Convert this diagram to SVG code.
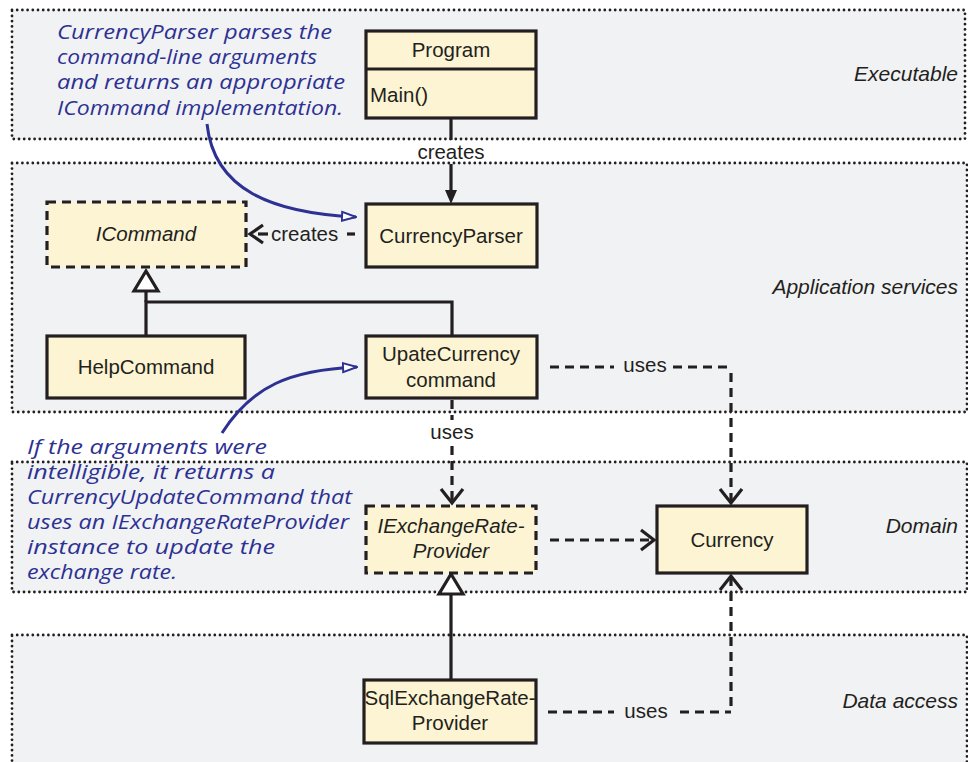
<svg xmlns="http://www.w3.org/2000/svg" width="968" height="762" viewBox="0 0 968 762">
  <defs>
    <style>
      .layer { fill: #f1f2f4; stroke: #231f20; stroke-width: 2.8; stroke-dasharray: 0 5.2; stroke-linecap: round; }
      .layer-label { font-family: "Liberation Sans", Arial, sans-serif; font-style: italic; font-size: 21px; fill: #231f20; text-anchor: end; }
      .box { fill: #fcf4d2; stroke: #231f20; stroke-width: 3.2; }
      .ibox { fill: #fcf4d2; stroke: #231f20; stroke-width: 3.2; stroke-dasharray: 9 6; }
      .t { font-family: "Liberation Sans", Arial, sans-serif; font-size: 20.5px; fill: #231f20; text-anchor: middle; }
      .t.left { text-anchor: start; }
      .it { font-style: italic; }
      .solid { fill: none; stroke: #231f20; stroke-width: 3.2; }
      .dash { fill: none; stroke: #231f20; stroke-width: 3.2; stroke-dasharray: 9 6; }
      .head { fill: none; stroke: #231f20; stroke-width: 3.2; }
      .tri { fill: #ffffff; stroke: #231f20; stroke-width: 3.2; }
      .lbl { font-family: "Liberation Sans", Arial, sans-serif; font-size: 20.5px; fill: #231f20; }
      .note { font-family: "Open Sans", "DejaVu Sans", sans-serif; font-style: italic; font-size: 20px; fill: #2d3192; }
      .callout { fill: none; stroke: #2d3192; stroke-width: 3; }
    </style>
    <marker id="hollowBlue" viewBox="0 0 16 12" refX="15" refY="6" markerWidth="16" markerHeight="12" markerUnits="userSpaceOnUse" orient="auto">
      <path d="M1,1.5 L15,6 L1,10.5 Z" fill="#ffffff" stroke="#2d3192" stroke-width="2"/>
    </marker>
  </defs>

  <!-- layers -->
  <g id="layer-executable">
    <rect class="layer" x="12" y="10" width="953" height="129"/>
    <text class="layer-label" x="958" y="81">Executable</text>
  </g>
  <g id="layer-application">
    <rect class="layer" x="12" y="163" width="955" height="249"/>
    <text class="layer-label" x="958" y="294">Application services</text>
  </g>
  <g id="layer-domain">
    <rect class="layer" x="12" y="462" width="955" height="130"/>
    <text class="layer-label" x="958" y="533">Domain</text>
  </g>
  <g id="layer-data">
    <rect class="layer" x="12" y="635" width="955" height="140"/>
    <text class="layer-label" x="958" y="708">Data access</text>
  </g>

  <!-- connectors -->
  <g id="connectors">
    <!-- Program creates CurrencyParser -->
    <line class="solid" x1="451" y1="118" x2="451" y2="140"/>
    <line class="solid" x1="451" y1="164" x2="451" y2="192"/>
    <path d="M445,190 L457,190 L451,204 Z" fill="#231f20"/>
    <text class="lbl" x="451" y="159" text-anchor="middle">creates</text>

    <!-- CurrencyParser creates ICommand -->
    <line class="solid" x1="347" y1="234" x2="355" y2="234"/>
    <line class="solid" x1="258" y1="234" x2="268" y2="234"/>
    <polyline class="head" points="263,225 250,234 263,243"/>
    <text class="lbl" x="271" y="241">creates</text>

    <!-- generalization to ICommand -->
    <polyline class="solid" points="146,336 146,302 452,302 452,336"/>
    <line class="solid" x1="146" y1="302" x2="146" y2="291"/>
    <path class="tri" d="M146,271 L134,291 L158,291 Z"/>

    <!-- UpateCurrency command uses Currency -->
    <line class="dash" x1="550" y1="367" x2="614" y2="367"/>
    <text class="lbl" x="645" y="372" text-anchor="middle">uses</text>
    <line class="dash" x1="673" y1="367" x2="731" y2="367"/>
    <line class="dash" x1="731" y1="373" x2="731" y2="502"/>
    <polyline class="head" points="720,489 731,503 742,489"/>

    <!-- UpateCurrency command uses IExchangeRateProvider -->
    <line class="dash" x1="452" y1="400" x2="452" y2="420"/>
    <text class="lbl" x="452" y="439" text-anchor="middle">uses</text>
    <line class="dash" x1="452" y1="446" x2="452" y2="502"/>
    <polyline class="head" points="441,489 452,503 463,489"/>

    <!-- IExchangeRateProvider uses Currency -->
    <line class="dash" x1="550" y1="540" x2="652" y2="540"/>
    <polyline class="head" points="641,530 654,540 641,550"/>

    <!-- generalization to IExchangeRateProvider -->
    <line class="solid" x1="451" y1="594" x2="451" y2="680"/>
    <path class="tri" d="M451,574 L439,594 L463,594 Z"/>

    <!-- SqlExchangeRateProvider uses Currency -->
    <line class="dash" x1="548" y1="712" x2="614" y2="712"/>
    <text class="lbl" x="646" y="718" text-anchor="middle">uses</text>
    <line class="dash" x1="680" y1="712" x2="731" y2="712"/>
    <line class="dash" x1="731" y1="706" x2="731" y2="578"/>
    <polyline class="head" points="720,590 731,576 742,590"/>

    <!-- callouts -->
    <path class="callout" d="M207,124 C214,190 272,213 356,217" marker-end="url(#hollowBlue)"/>
    <path class="callout" d="M222,433 C252,386 290,370 357,367" marker-end="url(#hollowBlue)"/>
  </g>

  <!-- nodes -->
  <g id="program">
    <rect class="box" x="366" y="31" width="170" height="87"/>
    <line class="solid" x1="366" y1="69" x2="536" y2="69"/>
    <text class="t" x="451" y="57">Program</text>
    <text class="t left" x="370" y="102">Main()</text>
  </g>
  <g id="currency-parser">
    <rect class="box" x="366" y="204" width="171" height="63"/>
    <text class="t" x="451" y="243">CurrencyParser</text>
  </g>
  <g id="icommand">
    <rect class="ibox" x="47" y="202" width="199" height="65"/>
    <text class="t it" x="146" y="241">ICommand</text>
  </g>
  <g id="help-command">
    <rect class="box" x="47" y="336" width="198" height="62"/>
    <text class="t" x="146" y="374">HelpCommand</text>
  </g>
  <g id="update-currency-command">
    <rect class="box" x="366" y="336" width="171" height="62"/>
    <text class="t" x="451" y="361">UpateCurrency</text>
    <text class="t" x="451" y="387">command</text>
  </g>
  <g id="iexchange-rate-provider">
    <rect class="ibox" x="366" y="506" width="170" height="67"/>
    <text class="t it" x="451" y="533">IExchangeRate-</text>
    <text class="t it" x="451" y="558">Provider</text>
  </g>
  <g id="currency">
    <rect class="box" x="657" y="506" width="150" height="67"/>
    <text class="t" x="732" y="547">Currency</text>
  </g>
  <g id="sql-exchange-rate-provider">
    <rect class="box" x="364" y="680" width="172" height="63"/>
    <text class="t" x="450" y="705">SqlExchangeRate-</text>
    <text class="t" x="450" y="730">Provider</text>
  </g>

  <!-- notes -->
  <g id="note-parser">
    <text class="note" x="57" y="39" textLength="275" lengthAdjust="spacingAndGlyphs">CurrencyParser parses the</text>
    <text class="note" x="57" y="64" textLength="260" lengthAdjust="spacingAndGlyphs">command-line arguments</text>
    <text class="note" x="57" y="89" textLength="288" lengthAdjust="spacingAndGlyphs">and returns an appropriate</text>
    <text class="note" x="57" y="115" textLength="286" lengthAdjust="spacingAndGlyphs">ICommand implementation.</text>
  </g>
  <g id="note-command">
    <text class="note" x="27" y="454" textLength="240" lengthAdjust="spacingAndGlyphs">If the arguments were</text>
    <text class="note" x="27" y="479" textLength="248" lengthAdjust="spacingAndGlyphs">intelligible, it returns a</text>
    <text class="note" x="27" y="504" textLength="325" lengthAdjust="spacingAndGlyphs">CurrencyUpdateCommand that</text>
    <text class="note" x="27" y="529" textLength="322" lengthAdjust="spacingAndGlyphs">uses an IExchangeRateProvider</text>
    <text class="note" x="27" y="554" textLength="248" lengthAdjust="spacingAndGlyphs">instance to update the</text>
    <text class="note" x="27" y="579" textLength="150" lengthAdjust="spacingAndGlyphs">exchange rate.</text>
  </g>
</svg>
